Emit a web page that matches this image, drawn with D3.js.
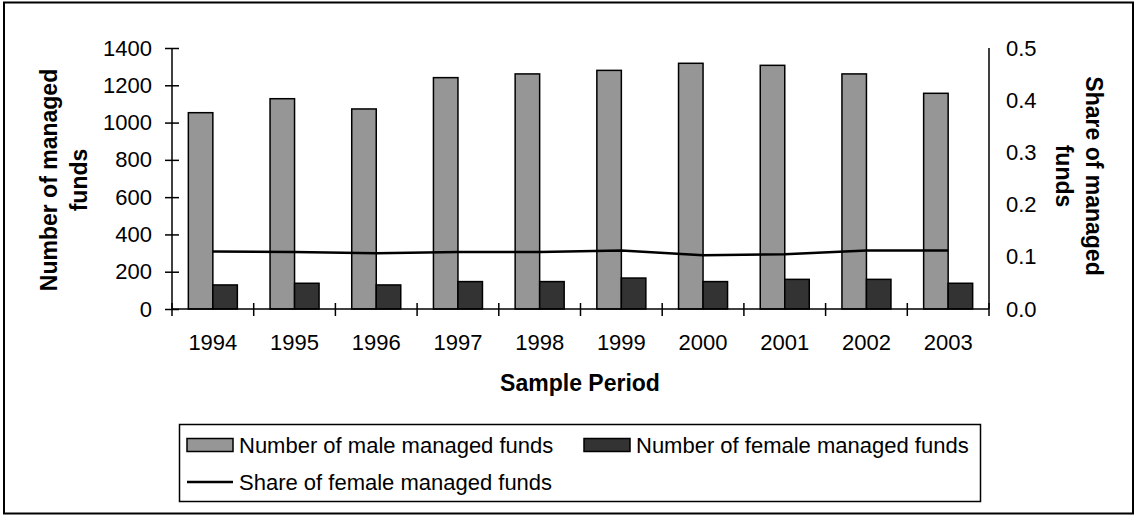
<!DOCTYPE html>
<html>
<head>
<meta charset="utf-8">
<script src="https://cdn.jsdelivr.net/npm/d3@7"></script>
<style>
    body { margin: 0; background: #fff; }
    svg { display: block; font-family: "Liberation Sans", Arial, sans-serif; }
</style>
</head>
<body>
<div id="wrapper"></div>
<script>
// data
const years = ["1994", "1995", "1996", "1997", "1998", "1999", "2000", "2001", "2002", "2003"];
const maleFunds = [1053, 1128, 1073, 1241, 1261, 1280, 1318, 1307, 1261, 1157];
const femaleFunds = [129, 138, 129, 147, 147, 166, 147, 159, 159, 138];
const femaleShare = [0.110, 0.109, 0.107, 0.109, 0.109, 0.112, 0.103, 0.105, 0.112, 0.112];
const leftTicks = [0, 200, 400, 600, 800, 1000, 1200, 1400];
const rightTicks = [0, 0.1, 0.2, 0.3, 0.4, 0.5];
const seriesNames = ["Number of male managed funds", "Number of female managed funds", "Share of female managed funds"];

const dataset = years.map((y, i) => ({
    year: y,
    male: maleFunds[i],
    female: femaleFunds[i],
    share: femaleShare[i]
}));

const xAccessor = d => d.year;
const shareAccessor = d => d.share;

// Define dimensions
let dimensions = {
    width: 1136,
    height: 518,
    margins: {
        top: 48,
        right: 147,
        bottom: 209,
        left: 172
    }
}
dimensions.boundedWidth = dimensions.width - dimensions.margins.left - dimensions.margins.right
dimensions.boundedHeight = dimensions.height - dimensions.margins.top - dimensions.margins.bottom

const wrapper = d3.select("#wrapper")
    .append("svg")
        .attr("width", dimensions.width)
        .attr("height", dimensions.height)

// outer chart frame
wrapper.append("rect")
    .attr("x", 4)
    .attr("y", 2.5)
    .attr("width", 1129)
    .attr("height", 511)
    .attr("fill", "none")
    .attr("stroke", "black")
    .attr("stroke-width", 2)

const boundingBox = wrapper.append("g")
    .attr("transform", `translate(${dimensions.margins.left}, ${dimensions.margins.top})`)

// Scales
const xScale = d3.scaleBand()
    .domain(years)
    .range([0, dimensions.boundedWidth])
    .padding(0)
const barScale = d3.scaleBand()
    .domain(["male", "female"])
    .range([0, xScale.bandwidth()])
    .paddingInner(0)
    .paddingOuter(0.667)
const yScale = d3.scaleLinear()
    .domain([0, 1400])
    .range([dimensions.boundedHeight, 0])
const yShareScale = d3.scaleLinear()
    .domain([0, 0.5])
    .range([dimensions.boundedHeight, 0])

const fills = { male: "#969696", female: "#333333" }

// Draw bars
const groups = boundingBox.selectAll(".year")
    .data(dataset)
    .join("g")
        .attr("transform", d => `translate(${xScale(xAccessor(d))}, 0)`)

groups.selectAll("rect")
    .data(d => ["male", "female"].map(k => ({ key: k, value: d[k] })))
    .join("rect")
        .attr("x", d => barScale(d.key))
        .attr("y", d => yScale(d.value))
        .attr("width", barScale.bandwidth())
        .attr("height", d => yScale(0) - yScale(d.value))
        .attr("fill", d => fills[d.key])
        .attr("stroke", "black")
        .attr("stroke-width", 1.5)

// Share line
const lineGenerator = d3.line()
    .x(d => xScale(xAccessor(d)) + xScale.bandwidth() / 2)
    .y(d => yShareScale(shareAccessor(d)))

boundingBox.append("path")
    .attr("d", lineGenerator(dataset))
    .attr("stroke", "black")
    .attr("stroke-width", 2.5)
    .attr("fill", "none")

// Axes
const tickFont = "22px"

const yAxis = boundingBox.append("g")
    .call(d3.axisLeft(yScale).tickValues(leftTicks).tickFormat(d3.format("d")).tickSize(7).tickPadding(13))
yAxis.selectAll(".tick line").attr("x2", 7).attr("x1", -7)

const yAxisRight = boundingBox.append("g")
    .attr("transform", `translate(${dimensions.boundedWidth}, 0)`)
    .call(d3.axisRight(yShareScale).tickValues(rightTicks).tickFormat(d3.format(".1f")).tickSize(0).tickPadding(17))

const xAxis = boundingBox.append("g")
    .attr("transform", `translate(0, ${dimensions.boundedHeight})`)
    .call(d3.axisBottom(xScale).tickSize(0).tickPadding(25))
// category boundary ticks
xAxis.selectAll(".boundary")
    .data(d3.range(years.length + 1))
    .join("line")
        .attr("x1", i => i * xScale.step())
        .attr("x2", i => i * xScale.step())
        .attr("y1", -6)
        .attr("y2", 7)
        .attr("stroke", "black")
        .attr("stroke-width", 1.5)

;[yAxis, yAxisRight, xAxis].forEach(ax => {
    ax.select(".domain").attr("stroke", "black").attr("stroke-width", 1.5)
    ax.selectAll(".tick line").attr("stroke", "black").attr("stroke-width", 1.5)
    ax.selectAll(".tick text")
        .attr("fill", "black")
        .style("font-size", tickFont)
        .style("font-family", "'Liberation Sans', Arial, sans-serif")
})
xAxis.select(".domain").attr("d", `M0,0H${dimensions.boundedWidth}`)
yAxis.select(".domain").attr("d", `M0,${dimensions.boundedHeight}V0`)
yAxisRight.select(".domain").attr("d", `M0,${dimensions.boundedHeight}V0`)

// Axis titles
const titleStyle = sel => sel
    .attr("fill", "black")
    .style("font-size", "23px")
    .style("font-weight", "bold")
    .style("font-family", "'Liberation Sans', Arial, sans-serif")

wrapper.append("text")
    .attr("x", 580)
    .attr("y", 391)
    .attr("text-anchor", "middle")
    .text("Sample Period")
    .call(titleStyle)

const leftTitle = wrapper.append("text")
    .attr("transform", "translate(0, 180) rotate(-90)")
    .attr("text-anchor", "middle")
    .call(titleStyle)
leftTitle.append("tspan").attr("x", 0).attr("y", 57).text("Number of managed")
leftTitle.append("tspan").attr("x", 0).attr("y", 87).text("funds")

const rightTitle = wrapper.append("text")
    .attr("transform", "translate(0, 176) rotate(90)")
    .attr("text-anchor", "middle")
    .call(titleStyle)
rightTitle.append("tspan").attr("x", 0).attr("y", -1086).text("Share of managed")
rightTitle.append("tspan").attr("x", 0).attr("y", -1056).text("funds")

// Legend
const legend = wrapper.append("g")
legend.append("rect")
    .attr("x", 179.5)
    .attr("y", 424.5)
    .attr("width", 801)
    .attr("height", 77)
    .attr("fill", "white")
    .attr("stroke", "black")
    .attr("stroke-width", 1.5)

const legendItems = [
    { name: seriesNames[0], type: "bar", fill: fills.male, x: 187, y: 445 },
    { name: seriesNames[1], type: "bar", fill: fills.female, x: 584, y: 445 },
    { name: seriesNames[2], type: "line", x: 187, y: 482 }
]
const item = legend.selectAll(".item")
    .data(legendItems)
    .join("g")
        .attr("transform", d => `translate(${d.x}, ${d.y})`)
item.filter(d => d.type === "bar").append("rect")
    .attr("x", 0)
    .attr("y", -6.5)
    .attr("width", 46)
    .attr("height", 13)
    .attr("fill", d => d.fill)
    .attr("stroke", "black")
    .attr("stroke-width", 1.5)
item.filter(d => d.type === "line").append("line")
    .attr("x1", 0)
    .attr("x2", 46)
    .attr("stroke", "black")
    .attr("stroke-width", 2.5)
item.append("text")
    .attr("x", 52)
    .attr("dy", "0.36em")
    .text(d => d.name)
    .attr("fill", "black")
    .style("font-size", "22px")
</script>
</body>
</html>
